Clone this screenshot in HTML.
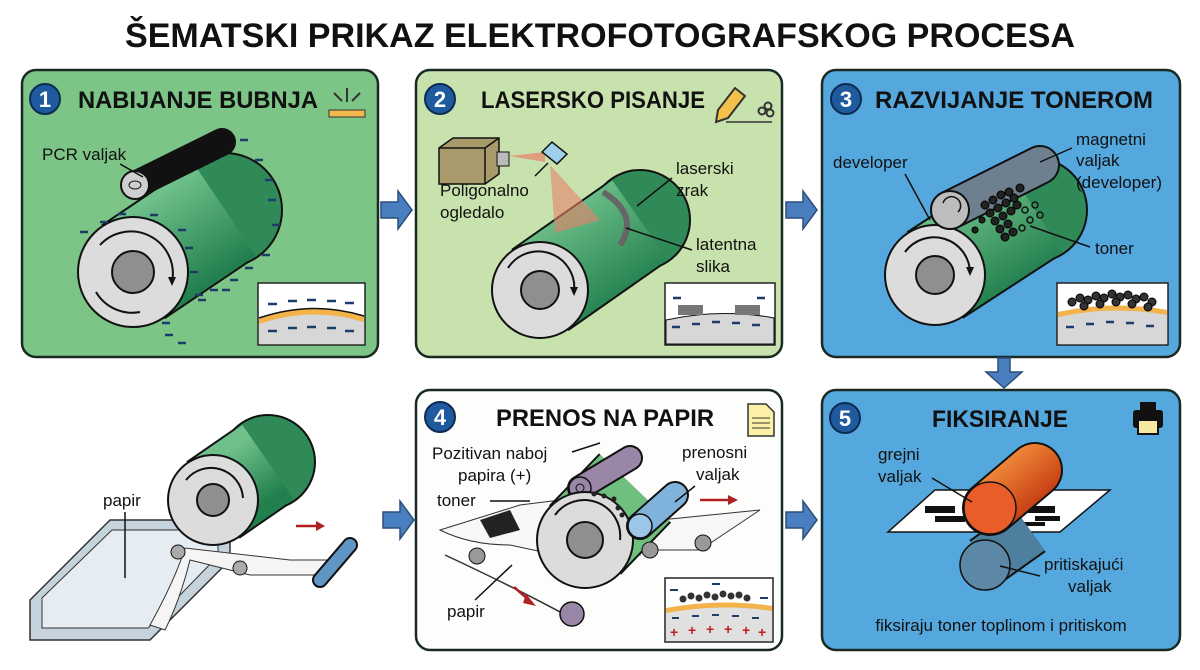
<!DOCTYPE html>
<html><head><meta charset="utf-8"><style>
body{margin:0;background:#fff;}
svg{display:block;font-family:"Liberation Sans",sans-serif;}
.t{font-weight:bold;font-size:24px;fill:#111;}
.l{font-size:17px;fill:#111;}
</style></head><body>
<svg width="1200" height="670" viewBox="0 0 1200 670" xmlns="http://www.w3.org/2000/svg">
<defs>
<linearGradient id="gr" x1="0" y1="0" x2="1" y2="1"><stop offset="0" stop-color="#6fc08a"/><stop offset="1" stop-color="#22804e"/></linearGradient>
<linearGradient id="or" x1="0" y1="0" x2="1" y2="1"><stop offset="0" stop-color="#f08a3a"/><stop offset="1" stop-color="#c63c12"/></linearGradient>
</defs>
<text x="600" y="47" text-anchor="middle" font-weight="bold" font-size="34" fill="#111" textLength="950" lengthAdjust="spacingAndGlyphs">ŠEMATSKI PRIKAZ ELEKTROFOTOGRAFSKOG PROCESA</text>

<rect x="22" y="70" width="356" height="287" rx="14" fill="#7cc587" stroke="#1a2a22" stroke-width="2.5"/>
<rect x="416" y="70" width="366" height="287" rx="14" fill="#c7e2ac" stroke="#1a2a22" stroke-width="2.5"/>
<rect x="822" y="70" width="358" height="287" rx="14" fill="#55a8de" stroke="#1a2a22" stroke-width="2.5"/>
<rect x="416" y="390" width="366" height="260" rx="14" fill="#fdfdfb" stroke="#1a2a22" stroke-width="2.5"/>
<rect x="822" y="390" width="358" height="260" rx="14" fill="#55a8de" stroke="#1a2a22" stroke-width="2.5"/>

<g fill="#4a7fbf" stroke="#2c4f7a" stroke-width="1.5">
<path d="M381,202 h17 v-11 l14,19 l-14,19 v-11 h-17z"/>
<path d="M786,202 h17 v-11 l14,19 l-14,19 v-11 h-17z"/>
<path d="M383,512 h17 v-11 l14,19 l-14,19 v-11 h-17z"/>
<path d="M786,512 h17 v-11 l14,19 l-14,19 v-11 h-17z"/>
<path d="M998,358 v14 h-12 l18,16 l18,-16 h-12 v-14z"/>
</g>

<g font-weight="bold" font-size="22" fill="#fff" text-anchor="middle">
<circle cx="45" cy="99" r="15" fill="#1f5a9e" stroke="#0d2b50" stroke-width="2"/><text x="45" y="107">1</text>
<circle cx="440" cy="99" r="15" fill="#1f5a9e" stroke="#0d2b50" stroke-width="2"/><text x="440" y="107">2</text>
<circle cx="846" cy="99" r="15" fill="#1f5a9e" stroke="#0d2b50" stroke-width="2"/><text x="846" y="107">3</text>
<circle cx="440" cy="417" r="15" fill="#1f5a9e" stroke="#0d2b50" stroke-width="2"/><text x="440" y="425">4</text>
<circle cx="845" cy="418" r="15" fill="#1f5a9e" stroke="#0d2b50" stroke-width="2"/><text x="845" y="426">5</text>
</g>
<text class="t" x="78" y="108" textLength="240" lengthAdjust="spacingAndGlyphs">NABIJANJE BUBNJA</text>
<text class="t" x="481" y="108" textLength="224" lengthAdjust="spacingAndGlyphs">LASERSKO PISANJE</text>
<text class="t" x="875" y="108" textLength="278" lengthAdjust="spacingAndGlyphs">RAZVIJANJE TONEROM</text>
<text class="t" x="496" y="426" textLength="218" lengthAdjust="spacingAndGlyphs">PRENOS NA PAPIR</text>
<text class="t" x="932" y="427" textLength="136" lengthAdjust="spacingAndGlyphs">FIKSIRANJE</text>

<rect x="329" y="110" width="36" height="7" fill="#f2b84b" stroke="#333"/>
<path d="M347,88 v14 M334,93 l8,8 M360,93 l-8,8" stroke="#333" stroke-width="2"/>
<path d="M735,88 l10,8 l-17,22 l-12,4 l2,-12z" fill="#f2c14b" stroke="#333" stroke-width="2"/>
<circle cx="762" cy="111" r="3.5" fill="none" stroke="#333" stroke-width="2"/><circle cx="768" cy="106" r="3.5" fill="none" stroke="#333" stroke-width="2"/><circle cx="770" cy="113" r="3.5" fill="none" stroke="#333" stroke-width="2"/>
<path d="M726,122 h46" stroke="#333" stroke-width="1.5"/>
<path d="M748,404 h18 l8,8 v24 h-26z" fill="#fbf0a6" stroke="#333" stroke-width="1.5"/>
<path d="M752,418 h18 M752,423 h18 M752,428 h18" stroke="#333"/>
<rect x="1133" y="410" width="30" height="18" rx="3" fill="#111"/><rect x="1140" y="402" width="16" height="8" fill="#111"/><rect x="1138" y="420" width="20" height="14" fill="#f6e8a0" stroke="#111" stroke-width="2"/>

<!-- PANEL 1 -->
<g>
<line x1="133" y1="272" x2="225" y2="210" stroke="#111" stroke-width="114"/>
<circle cx="225" cy="210" r="57" fill="#2f8a58" stroke="#111" stroke-width="2"/>
<line x1="133" y1="272" x2="225" y2="210" stroke="url(#gr)" stroke-width="110"/>
<circle cx="133" cy="272" r="55" fill="#dcdcdc" stroke="#111" stroke-width="2"/>
<path d="M100,245 A42,42 0 0 1 172,282" fill="none" stroke="#111" stroke-width="2"/>
<path d="M168,277 l4,9 l4,-9" fill="#111"/>
<path d="M140,312 A42,42 0 0 1 96,292" fill="none" stroke="#111" stroke-width="2"/>
<circle cx="133" cy="272" r="21" fill="#8f8f8f" stroke="#111" stroke-width="2"/>
<line x1="135" y1="185" x2="222" y2="142" stroke="#111" stroke-width="28" stroke-linecap="round"/>
<circle cx="135" cy="185" r="14" fill="#cfcfcf" stroke="#111" stroke-width="2"/>
<ellipse cx="135" cy="185" rx="6" ry="4" fill="none" stroke="#111"/>
<g stroke="#1c3c6a" stroke-width="2.5">
<path d="M80,232 h8 M100,222 h8 M118,214 h8 M150,215 h8 M178,230 h8 M185,248 h8 M190,272 h8 M195,295 h8 M210,290 h8 M230,280 h8 M245,268 h8 M262,255 h8 M272,225 h8 M268,200 h8 M265,180 h8 M255,160 h8 M240,140 h8 M162,323 h8 M165,335 h8 M178,343 h8 M198,300 h8 M222,290 h8"/>
</g>
<line x1="120" y1="164" x2="143" y2="177" stroke="#111" stroke-width="1.5"/>
</g>
<text class="l" x="42" y="160">PCR valjak</text>
<rect x="258" y="283" width="107" height="62" fill="#fff" stroke="#222" stroke-width="1.5"/>
<path d="M259,318 Q312,300 364,316 V344 H259z" fill="#d7d7d7"/>
<path d="M259,318 Q312,300 364,316 L364,322 Q312,306 259,324z" fill="#f2b34b"/>
<path d="M259,318 Q312,300 364,316" stroke="#111" stroke-width="1.5" fill="none"/>
<g stroke="#1c3c6a" stroke-width="2.5"><path d="M268,304 h9 M288,301 h9 M307,300 h9 M327,301 h9 M345,303 h9 M268,331 h9 M288,328 h9 M307,327 h9 M327,328 h9 M345,331 h9"/></g>

<!-- PANEL 2 -->
<line x1="540" y1="290" x2="640" y2="220" stroke="#111" stroke-width="100"/>
<circle cx="640" cy="220" r="50" fill="#2f8a58" stroke="#111" stroke-width="2"/>
<line x1="540" y1="290" x2="640" y2="220" stroke="url(#gr)" stroke-width="96"/>
<path d="M603,192 Q640,215 620,245" fill="none" stroke="#666" stroke-width="6"/>
<circle cx="540" cy="290" r="48" fill="#dcdcdc" stroke="#111" stroke-width="2"/>
<path d="M508,268 A36,36 0 0 1 574,292" fill="none" stroke="#111" stroke-width="2"/>
<path d="M570,287 l4,9 l4,-9" fill="#111"/>
<circle cx="540" cy="290" r="19" fill="#8f8f8f" stroke="#111" stroke-width="2"/>
<path d="M550,165 L555,233 L600,220z" fill="#e8826a" opacity="0.6"/>
<path d="M439,148 l14,-10 h46 v36 l-14,10 h-46z" fill="#a89a6a" stroke="#111" stroke-width="1.5"/>
<path d="M439,148 h46 v36 M485,148 l14,-10" fill="none" stroke="#111" stroke-width="1.5"/>
<rect x="497" y="152" width="12" height="14" fill="#bbb" stroke="#111"/>
<path d="M509,156 l36,-4 v10z" fill="#e8826a" opacity="0.7"/>
<path d="M542,152 l10,-10 l15,12 l-10,10z" fill="#9fcfe8" stroke="#111" stroke-width="1.5"/>
<line x1="535" y1="176" x2="548" y2="163" stroke="#111" stroke-width="1.5"/>
<text class="l" x="440" y="196">Poligonalno</text><text class="l" x="440" y="218">ogledalo</text>
<text class="l" x="676" y="174">laserski</text><text class="l" x="676" y="196">zrak</text>
<line x1="672" y1="178" x2="637" y2="206" stroke="#111" stroke-width="1.5"/>
<text class="l" x="696" y="250">latentna</text><text class="l" x="696" y="272">slika</text>
<line x1="692" y1="250" x2="626" y2="228" stroke="#111" stroke-width="1.5"/>
<rect x="665" y="283" width="110" height="62" fill="#fff" stroke="#222" stroke-width="1.5"/>
<path d="M666,320 Q720,308 774,318 V344 H666z" fill="#d7d7d7" stroke="#111" stroke-width="1"/>
<rect x="678" y="305" width="25" height="10" fill="#777"/><rect x="735" y="305" width="25" height="10" fill="#777"/>
<g stroke="#1c3c6a" stroke-width="2.5"><path d="M673,298 h8 M757,298 h8 M672,327 h8 M692,324 h8 M712,322 h8 M732,323 h8 M752,325 h8"/></g>

<!-- PANEL 3 -->
<line x1="935" y1="275" x2="1035" y2="210" stroke="#111" stroke-width="104"/>
<circle cx="1035" cy="210" r="52" fill="#2f8a58" stroke="#111" stroke-width="2"/>
<line x1="935" y1="275" x2="1035" y2="210" stroke="url(#gr)" stroke-width="100"/>
<circle cx="935" cy="275" r="50" fill="#dcdcdc" stroke="#111" stroke-width="2"/>
<path d="M905,252 A36,36 0 0 1 970,272" fill="none" stroke="#111" stroke-width="2"/>
<path d="M966,267 l4,9 l4,-9" fill="#111"/>
<circle cx="935" cy="275" r="19" fill="#8f8f8f" stroke="#111" stroke-width="2"/>
<line x1="950" y1="210" x2="1040" y2="165" stroke="#111" stroke-width="40" stroke-linecap="round"/>
<line x1="950" y1="210" x2="1040" y2="165" stroke="#6e7f8f" stroke-width="36" stroke-linecap="round"/>
<circle cx="950" cy="210" r="19" fill="#bdbdbd" stroke="#111" stroke-width="2"/>
<path d="M943,203 A9,9 0 1 1 958,212" fill="none" stroke="#111" stroke-width="1.5"/>
<g fill="#222" stroke="#000">
<circle cx="985" cy="205" r="4"/><circle cx="993" cy="200" r="4"/><circle cx="1001" cy="195" r="4"/><circle cx="1009" cy="192" r="4"/><circle cx="990" cy="213" r="4"/><circle cx="998" cy="208" r="4"/><circle cx="1006" cy="203" r="4"/><circle cx="1014" cy="198" r="4"/><circle cx="995" cy="221" r="4"/><circle cx="1003" cy="216" r="4"/><circle cx="1011" cy="211" r="4"/><circle cx="1000" cy="229" r="4"/><circle cx="1008" cy="224" r="4"/><circle cx="1005" cy="237" r="4"/><circle cx="1013" cy="232" r="4"/><circle cx="1020" cy="188" r="4"/><circle cx="1017" cy="205" r="4"/><circle cx="982" cy="220" r="3"/><circle cx="975" cy="230" r="3"/>
</g>
<g fill="none" stroke="#111" stroke-width="1.5"><circle cx="1025" cy="210" r="3"/><circle cx="1035" cy="205" r="3"/><circle cx="1030" cy="220" r="3"/><circle cx="1040" cy="215" r="3"/><circle cx="1022" cy="228" r="3"/></g>
<text class="l" x="833" y="168">developer</text>
<line x1="905" y1="174" x2="930" y2="220" stroke="#111" stroke-width="1.5"/>
<text class="l" x="1076" y="145">magnetni</text><text class="l" x="1076" y="166">valjak</text><text class="l" x="1076" y="188">(developer)</text>
<line x1="1072" y1="148" x2="1040" y2="162" stroke="#111" stroke-width="1.5"/>
<text class="l" x="1095" y="254">toner</text>
<line x1="1090" y1="247" x2="1030" y2="226" stroke="#111" stroke-width="1.5"/>
<rect x="1057" y="283" width="111" height="62" fill="#fff" stroke="#222" stroke-width="1.5"/>
<path d="M1058,312 Q1112,300 1167,310 V344 H1058z" fill="#d7d7d7"/>
<path d="M1058,312 Q1112,300 1167,310 L1167,315 Q1112,305 1058,317z" fill="#f2b34b"/>
<g fill="#333" stroke="#000"><circle cx="1072" cy="302" r="4"/><circle cx="1080" cy="298" r="4"/><circle cx="1088" cy="300" r="4"/><circle cx="1096" cy="296" r="4"/><circle cx="1104" cy="298" r="4"/><circle cx="1112" cy="294" r="4"/><circle cx="1120" cy="297" r="4"/><circle cx="1128" cy="295" r="4"/><circle cx="1136" cy="299" r="4"/><circle cx="1144" cy="297" r="4"/><circle cx="1152" cy="302" r="4"/><circle cx="1084" cy="306" r="4"/><circle cx="1100" cy="304" r="4"/><circle cx="1116" cy="302" r="4"/><circle cx="1132" cy="304" r="4"/><circle cx="1148" cy="307" r="4"/></g>
<g stroke="#1c3c6a" stroke-width="2.5"><path d="M1066,327 h8 M1086,324 h8 M1106,322 h8 M1126,323 h8 M1146,326 h8"/></g>

<!-- BOTTOM LEFT -->
<path d="M30,600 L110,520 L230,520 L230,560 L150,640 L30,640z" fill="#c5d3dd" stroke="#333" stroke-width="1.5"/>
<path d="M42,598 L112,530 L218,530 L218,556 L148,628 L42,628z" fill="#e6edf2" stroke="#333" stroke-width="1"/>
<path d="M150,625 Q175,580 185,548 L290,560 L330,560 L330,575 L250,575 L190,560 Q180,600 165,630z" fill="#f5f5f5" stroke="#333"/>
<line x1="213" y1="500" x2="268" y2="462" stroke="#111" stroke-width="94"/>
<circle cx="268" cy="462" r="47" fill="#2f8a58" stroke="#111" stroke-width="2"/>
<line x1="213" y1="500" x2="268" y2="462" stroke="url(#gr)" stroke-width="90"/>
<circle cx="213" cy="500" r="45" fill="#dcdcdc" stroke="#111" stroke-width="2"/>
<path d="M186,480 A32,32 0 0 1 243,498" fill="none" stroke="#111" stroke-width="2"/>
<circle cx="213" cy="500" r="16" fill="#8f8f8f" stroke="#111" stroke-width="2"/>
<circle cx="178" cy="552" r="7" fill="#aaa" stroke="#111"/><circle cx="240" cy="568" r="7" fill="#aaa" stroke="#111"/>
<line x1="320" y1="580" x2="350" y2="545" stroke="#111" stroke-width="16" stroke-linecap="round"/>
<line x1="320" y1="580" x2="350" y2="545" stroke="#5f96c4" stroke-width="12" stroke-linecap="round"/>
<path d="M296,526 h22" stroke="#b02020" stroke-width="2.5"/><path d="M316,521 l9,5 l-9,5z" fill="#b02020"/>
<text class="l" x="103" y="506">papir</text>
<line x1="125" y1="512" x2="125" y2="578" stroke="#111" stroke-width="1.5"/>

<!-- PANEL 4 -->
<path d="M440,530 L520,505 L560,500 L600,520 L640,555 L580,560 L510,545 Q470,545 440,530z" fill="#f7f7f7" stroke="#333"/>
<path d="M480,520 l30,-10 l10,20 l-30,8z" fill="#222"/>
<path d="M660,520 L760,510 L700,550 L640,550z" fill="#f7f7f7" stroke="#333"/>
<path d="M445,555 Q520,590 575,620" fill="none" stroke="#333" stroke-width="1.5"/>
<line x1="585" y1="540" x2="635" y2="488" stroke="#111" stroke-width="100"/>
<line x1="585" y1="540" x2="635" y2="488" stroke="#6fbf7f" stroke-width="96"/>
<line x1="580" y1="488" x2="630" y2="458" stroke="#111" stroke-width="26" stroke-linecap="round"/>
<line x1="580" y1="488" x2="630" y2="458" stroke="#9a86a6" stroke-width="22" stroke-linecap="round"/>
<circle cx="580" cy="488" r="11" fill="#9a86a6" stroke="#111" stroke-width="1.5"/><circle cx="580" cy="488" r="4" fill="none" stroke="#111"/>
<circle cx="585" cy="540" r="48" fill="#dcdcdc" stroke="#111" stroke-width="2"/>
<path d="M555,515 A36,36 0 0 1 620,540" fill="none" stroke="#111" stroke-width="2"/>
<circle cx="585" cy="540" r="18" fill="#8f8f8f" stroke="#111" stroke-width="2"/>
<line x1="640" y1="526" x2="675" y2="495" stroke="#111" stroke-width="28" stroke-linecap="round"/>
<line x1="640" y1="526" x2="675" y2="495" stroke="#7fb3dc" stroke-width="24" stroke-linecap="round"/>
<circle cx="640" cy="526" r="12" fill="#9cc6e8" stroke="#111" stroke-width="1.5"/>
<circle cx="477" cy="556" r="8" fill="#999" stroke="#111"/><circle cx="650" cy="550" r="8" fill="#999" stroke="#111"/><circle cx="703" cy="543" r="8" fill="#999" stroke="#111"/>
<circle cx="572" cy="614" r="12" fill="#9a86a6" stroke="#111" stroke-width="1.5"/>
<g fill="#222"><circle cx="594" cy="494" r="2.5"/><circle cx="604" cy="496" r="2.5"/><circle cx="614" cy="499" r="2.5"/><circle cx="618" cy="508" r="2.5"/><circle cx="622" cy="515" r="2.5"/></g>
<text class="l" x="432" y="459">Pozitivan naboj</text><text class="l" x="458" y="481">papira (+)</text>
<line x1="572" y1="452" x2="600" y2="443" stroke="#111" stroke-width="1.5"/>
<text class="l" x="437" y="506">toner</text><line x1="490" y1="501" x2="530" y2="501" stroke="#111" stroke-width="1.5"/>
<text class="l" x="682" y="458">prenosni</text><text class="l" x="696" y="480">valjak</text>
<line x1="695" y1="486" x2="675" y2="502" stroke="#111" stroke-width="1.5"/>
<text class="l" x="447" y="617">papir</text><line x1="475" y1="600" x2="512" y2="565" stroke="#111" stroke-width="1.5"/>
<path d="M514,587 l16,14" stroke="#b02020" stroke-width="2.5"/><path d="M526,594 l10,12 l-13,-3z" fill="#b02020"/>
<path d="M700,500 h30" stroke="#b02020" stroke-width="2.5"/><path d="M728,495 l10,5 l-10,5z" fill="#b02020"/>
<rect x="665" y="578" width="108" height="64" fill="#fff" stroke="#222" stroke-width="1.5"/>
<path d="M666,608 Q720,598 772,606 V641 H666z" fill="#e0e0e0"/>
<path d="M666,608 Q720,598 772,606 L772,611 Q720,603 666,613z" fill="#f2b34b"/>
<g fill="#333"><circle cx="683" cy="599" r="3.5"/><circle cx="691" cy="596" r="3.5"/><circle cx="699" cy="598" r="3.5"/><circle cx="707" cy="595" r="3.5"/><circle cx="715" cy="597" r="3.5"/><circle cx="723" cy="594" r="3.5"/><circle cx="731" cy="596" r="3.5"/><circle cx="739" cy="595" r="3.5"/><circle cx="747" cy="598" r="3.5"/></g>
<g stroke="#1c3c6a" stroke-width="2"><path d="M670,590 h8 M712,584 h8 M760,598 h8 M672,618 h7 M692,616 h7 M712,615 h7 M732,616 h7 M752,618 h7"/></g>
<g fill="#c02020" font-size="14" font-weight="bold"><text x="670" y="637">+</text><text x="688" y="635">+</text><text x="706" y="634">+</text><text x="724" y="634">+</text><text x="742" y="635">+</text><text x="758" y="637">+</text></g>

<!-- PANEL 5 -->
<path d="M888,532 L935,490 L1110,490 L1060,532z" fill="#fff" stroke="#111" stroke-width="1.5"/>
<g fill="#111"><rect x="925" y="506" width="30" height="7"/><rect x="935" y="516" width="30" height="6"/><rect x="1025" y="506" width="30" height="7"/><rect x="1035" y="516" width="25" height="5"/><rect x="1015" y="522" width="30" height="4"/></g>
<line x1="985" y1="562" x2="1030" y2="530" stroke="#111" stroke-width="54"/>
<line x1="985" y1="562" x2="1030" y2="530" stroke="#4f7f9e" stroke-width="50"/>
<circle cx="985" cy="565" r="25" fill="#5d87a6" stroke="#111" stroke-width="1.5"/>
<line x1="990" y1="508" x2="1035" y2="470" stroke="#111" stroke-width="56" stroke-linecap="round"/>
<line x1="990" y1="508" x2="1035" y2="470" stroke="url(#or)" stroke-width="52" stroke-linecap="round"/>
<circle cx="990" cy="508" r="26" fill="#e85d2a" stroke="#111" stroke-width="1.5"/>
<text class="l" x="878" y="460">grejni</text><text class="l" x="878" y="482">valjak</text>
<line x1="932" y1="478" x2="972" y2="502" stroke="#111" stroke-width="1.5"/>
<text class="l" x="1044" y="570">pritiskajući</text><text class="l" x="1068" y="592">valjak</text>
<line x1="1040" y1="576" x2="1000" y2="566" stroke="#111" stroke-width="1.5"/>
<text x="1001" y="631" text-anchor="middle" font-size="17" fill="#111">fiksiraju toner toplinom i pritiskom</text>
</svg>
</body></html>
